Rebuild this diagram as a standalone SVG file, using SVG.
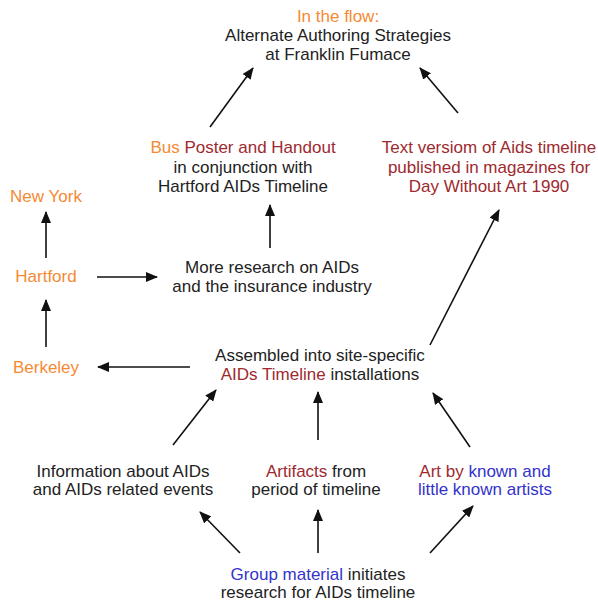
<svg xmlns="http://www.w3.org/2000/svg" width="598" height="606" viewBox="0 0 598 606">
<defs>
<style>
text{font-family:"Liberation Sans",Arial,sans-serif;font-size:17px;fill:#222;text-anchor:middle}
.o{fill:#F58A35}
.r{fill:#9E2A2F}
.b{fill:#3333CC}
.c line{stroke:#111;stroke-width:1.6;marker-end:url(#ah)}
</style>
<marker id="ah" markerUnits="userSpaceOnUse" markerWidth="12" markerHeight="10" refX="11" refY="5" orient="auto">
<path d="M0,0 L12,5 L0,10 z" fill="#111"/>
</marker>
</defs>
<rect width="598" height="606" fill="#fff"/>
<g id="title">
<text x="338" y="22" class="o">In the flow:</text>
<text x="338" y="41">Alternate Authoring Strategies</text>
<text x="338" y="60">at Franklin Fumace</text>
</g>
<g id="bus">
<text x="243" y="153"><tspan class="o">Bus</tspan><tspan class="r"> Poster and Handout</tspan></text>
<text x="243" y="173">in conjunction with</text>
<text x="243" y="192">Hartford AIDs Timeline</text>
</g>
<g id="textversion">
<text x="489" y="153" class="r">Text versiom of Aids timeline</text>
<text x="489" y="173" class="r">published in magazines for</text>
<text x="489" y="192" class="r">Day Without Art 1990</text>
</g>
<g id="newyork"><text x="46" y="202" class="o">New York</text></g>
<g id="hartford"><text x="46" y="282" class="o">Hartford</text></g>
<g id="research">
<text x="272" y="273">More research on AIDs</text>
<text x="272" y="292">and the insurance industry</text>
</g>
<g id="berkeley"><text x="46" y="373" class="o">Berkeley</text></g>
<g id="assembled">
<text x="320" y="361">Assembled into site-specific</text>
<text x="320" y="380"><tspan class="r">AIDs Timeline</tspan> installations</text>
</g>
<g id="information">
<text x="123" y="477">Information about AIDs</text>
<text x="123" y="495">and AIDs related events</text>
</g>
<g id="artifacts">
<text x="316" y="477"><tspan class="r">Artifacts</tspan> from</text>
<text x="316" y="495">period of timeline</text>
</g>
<g id="art">
<text x="485" y="477"><tspan class="r">Art by </tspan><tspan class="b">known and</tspan></text>
<text x="485" y="495" class="b">little known artists</text>
</g>
<g id="group">
<text x="318" y="580"><tspan class="b">Group material</tspan> initiates</text>
<text x="318" y="598">research for AIDs timeline</text>
</g>
<g id="connectors" class="c">
<line x1="210" y1="127" x2="253" y2="68"/>
<line x1="458" y1="113" x2="420" y2="68"/>
<line x1="270" y1="248" x2="270" y2="205"/>
<line x1="46" y1="258" x2="46" y2="212"/>
<line x1="97" y1="277" x2="157" y2="277"/>
<line x1="46" y1="347" x2="46" y2="300"/>
<line x1="190" y1="367" x2="98" y2="367"/>
<line x1="430" y1="345" x2="499" y2="210"/>
<line x1="173" y1="445" x2="216" y2="390"/>
<line x1="318" y1="440" x2="318" y2="392"/>
<line x1="470" y1="447" x2="433" y2="393"/>
<line x1="240" y1="553" x2="200" y2="512"/>
<line x1="318" y1="553" x2="318" y2="510"/>
<line x1="430" y1="553" x2="473" y2="506"/>
</g>
</svg>
